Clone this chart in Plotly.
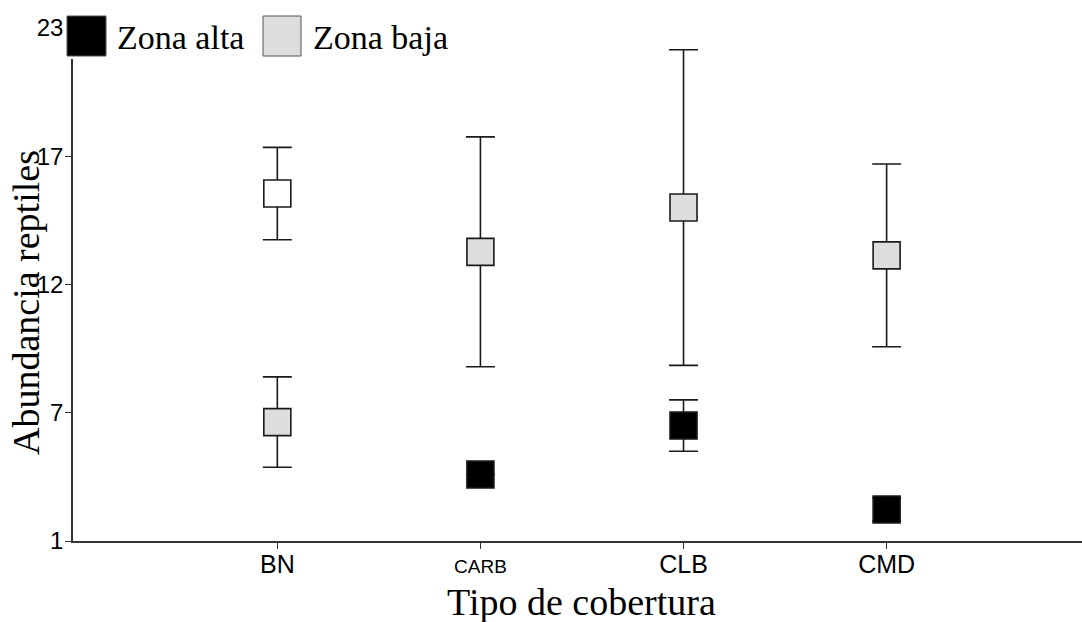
import plotly.graph_objects as go

# Cover types along the x axis
categorias = ["BN", "CARB", "CLB", "CMD"]

# Upper group of means (Zona baja) with their error half-widths
media_baja = [15.9, 13.4, 15.3, 13.25]
error_baja = [1.98, 4.93, 6.77, 3.92]
relleno_baja = ["#ffffff", "#dddddd", "#dddddd", "#dddddd"]

# Lower group of means (Zona alta) with their error half-widths
media_alta = [6.1, 3.85, 5.95, 2.35]
error_alta = [1.94, 0.0, 1.1, 0.5]
relleno_alta = ["#dddddd", "#000000", "#000000", "#000000"]

# y axis: evenly spaced ticks with rounded labels
y_ticks = [1, 6.5, 12, 17.5, 23]
y_labels = ["1", "7", "12", "17", "23"]

x_labels = ["BN", '<span style="font-size:19px">CARB</span>', "CLB", "CMD"]

W, H = 1082, 622
L, R, T, B = 73, 0, 28, 81
pw, ph = W - L - R, H - T - B

x_pos = list(range(len(categorias)))


def px_x(px):
    return (px - L) / pw


def px_y(py):
    return (H - B - py) / ph


fig = go.Figure()

for medias, errores, rellenos, nombre in [
    (media_alta, error_alta, relleno_alta, "Zona alta"),
    (media_baja, error_baja, relleno_baja, "Zona baja"),
]:
    fig.add_trace(go.Scatter(
        x=x_pos,
        y=medias,
        mode="markers",
        name=nombre,
        showlegend=False,
        marker=dict(symbol="square", size=27, color=rellenos,
                    line=dict(color="#1a1a1a", width=1.6)),
        error_y=dict(type="data", array=errores, visible=True,
                     color="#1a1a1a", thickness=1.6, width=14.5),
    ))

shapes = []
annotations = []

# Legend drawn as squares with text beside them
legend_items = [
    (67, 106, "#000000", "Zona alta", 115),
    (263, 301, "#dddddd", "Zona baja", 311),
]
for x0, x1, fill, label, tx in legend_items:
    shapes.append(dict(type="rect", xref="paper", yref="paper",
                       x0=px_x(x0 - 3), x1=px_x(x1 + 3),
                       y0=px_y(59), y1=px_y(13),
                       fillcolor="white", line=dict(width=0), layer="above"))
    shapes.append(dict(type="rect", xref="paper", yref="paper",
                       x0=px_x(x0), x1=px_x(x1),
                       y0=px_y(56), y1=px_y(16),
                       fillcolor=fill, line=dict(color="#555555", width=1),
                       layer="above"))
    annotations.append(dict(text=label, xref="paper", yref="paper",
                            x=px_x(tx), y=px_y(37), xanchor="left",
                            yanchor="middle", showarrow=False,
                            font=dict(family="Liberation Serif", size=34,
                                      color="black")))

annotations.append(dict(text="Abundancia reptiles", xref="paper", yref="paper",
                        x=px_x(26), y=px_y(303), textangle=-90,
                        xanchor="center", yanchor="middle", showarrow=False,
                        font=dict(family="Liberation Serif", size=38,
                                  color="black")))
annotations.append(dict(text="Tipo de cobertura", xref="paper", yref="paper",
                        x=px_x(581), y=px_y(602),
                        xanchor="center", yanchor="middle", showarrow=False,
                        font=dict(family="Liberation Serif", size=38,
                                  color="black")))

fig.update_layout(
    width=W, height=H,
    margin=dict(l=L, r=R, t=T, b=B, pad=0),
    paper_bgcolor="white", plot_bgcolor="white",
    shapes=shapes, annotations=annotations,
    xaxis=dict(range=[-1.006, 3.962], tickvals=x_pos, ticktext=x_labels,
               showgrid=False, zeroline=False, showline=True,
               linecolor="#333333", linewidth=1.5,
               ticks="outside", ticklen=6, tickcolor="#333333",
               ticklabelstandoff=-6,
               tickfont=dict(family="Liberation Sans", size=25, color="black")),
    yaxis=dict(range=[1, 23], tickvals=y_ticks, ticktext=y_labels,
               showgrid=False, zeroline=False, showline=True,
               linecolor="#333333", linewidth=1.5,
               ticks="outside", ticklen=6, tickcolor="#333333",
               ticklabelstandoff=-3,
               tickfont=dict(family="Liberation Sans", size=24, color="black")),
)

fig.write_html("out.html")
